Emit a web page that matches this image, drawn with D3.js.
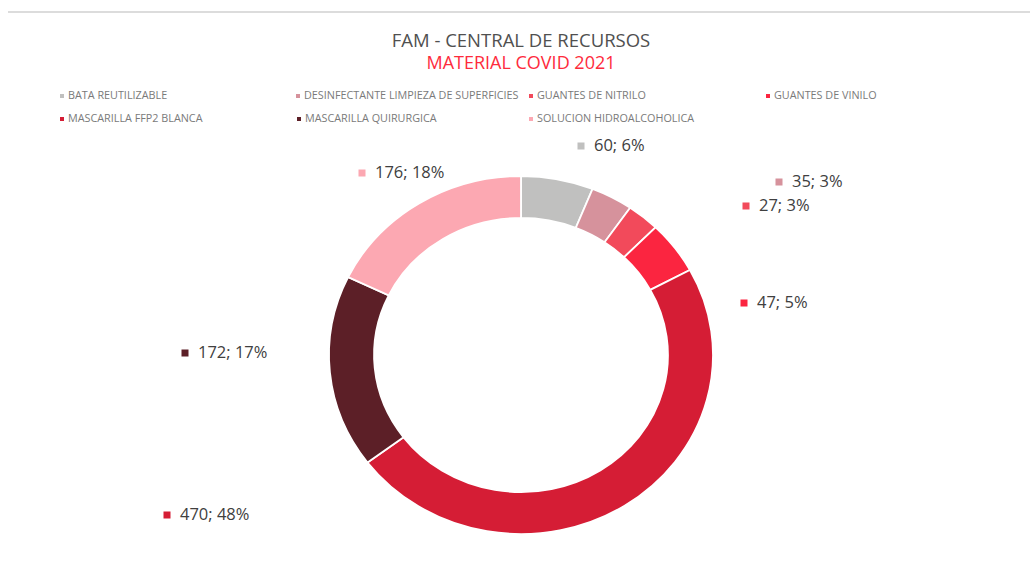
<!DOCTYPE html>
<html>
<head>
<meta charset="utf-8">
<script src="https://cdn.jsdelivr.net/npm/d3@7"></script>
<style>
  body { margin: 0; background: #fff; }
  text { font-family: "Open Sans", "DejaVu Sans", sans-serif; }
</style>
</head>
<body>
<div id="chart"></div>
<script>
let width = 1030,
    height = 574;

const categories = [
  "BATA REUTILIZABLE",
  "DESINFECTANTE LIMPIEZA DE SUPERFICIES",
  "GUANTES DE NITRILO",
  "GUANTES DE VINILO",
  "MASCARILLA FFP2 BLANCA",
  "MASCARILLA QUIRURGICA",
  "SOLUCION HIDROALCOHOLICA"
];
const values = [60, 35, 27, 47, 470, 172, 176];
// percentages as printed on the chart
const percents = [6, 3, 3, 5, 48, 17, 18];
const colors = ["#c0c0bf", "#d6929c", "#f24a5b", "#fb2540", "#d51d35", "#5c1f27", "#fca8b2"];

// label spots, as placed by hand in the original
const labelSpots = [[581, 146], [779, 182], [746, 206], [744, 303], [167, 515], [185, 353], [362, 173]];
// legend grid
const legendSpots = [[62, 96], [298, 96], [531, 96], [768, 96], [62, 119], [299, 119], [531, 119]];

const svg = d3.select("#chart")
  .append("svg")
  .attr("width", width)
  .attr("height", height);

// thin rule at the very top
svg.append("line")
  .attr("x1", 8).attr("x2", width)
  .attr("y1", 12).attr("y2", 12)
  .attr("stroke", "#dcdcdc")
  .attr("stroke-width", 2);

svg.append("text")
  .attr("x", 521).attr("y", 47)
  .attr("text-anchor", "middle")
  .attr("font-size", 18.5)
  .attr("fill", "#505050")
  .text("FAM - CENTRAL DE RECURSOS");

svg.append("text")
  .attr("x", 521).attr("y", 69)
  .attr("text-anchor", "middle")
  .attr("font-size", 18)
  .attr("fill", "#fe2b3c")
  .text("MATERIAL COVID 2021");

// legend
let legend = svg.append("g");
categories.forEach((c, i) => {
  let [lx, ly] = legendSpots[i];
  legend.append("rect")
    .attr("x", lx - 2).attr("y", ly - 2)
    .attr("width", 4).attr("height", 4)
    .attr("fill", colors[i]);
  legend.append("text")
    .attr("x", lx + 6).attr("y", ly + 0.5)
    .attr("dominant-baseline", "middle")
    .attr("font-size", 10.8)
    .attr("fill", "#7a7a7a")
    .text(c);
});

// donut (the original is slightly stretched horizontally)
let outer = 179,
    inner = 137,
    cx = 521,
    cy = 355;

let pie = d3.pie().sort(null).value(d => d);
let arc = d3.arc().innerRadius(inner).outerRadius(outer);

svg.append("g")
  .attr("transform", `translate(${cx},${cy}) scale(${192 / 179},1)`)
  .selectAll("path")
  .data(pie(values))
  .join("path")
  .attr("d", arc)
  .attr("fill", (d, i) => colors[i])
  .attr("stroke", "#fff")
  .attr("stroke-width", 1.8)
  .attr("vector-effect", "non-scaling-stroke");

// data labels
let labels = svg.append("g");
values.forEach((v, i) => {
  let [lx, ly] = labelSpots[i];
  labels.append("rect")
    .attr("x", lx - 3.5).attr("y", ly - 3.5)
    .attr("width", 7).attr("height", 7)
    .attr("fill", colors[i]);
  labels.append("text")
    .attr("x", lx + 13).attr("y", ly + 1)
    .attr("dominant-baseline", "middle")
    .attr("font-size", 16.5)
    .attr("fill", "#404040")
    .text(`${v}; ${percents[i]}%`);
});
</script>
</body>
</html>
